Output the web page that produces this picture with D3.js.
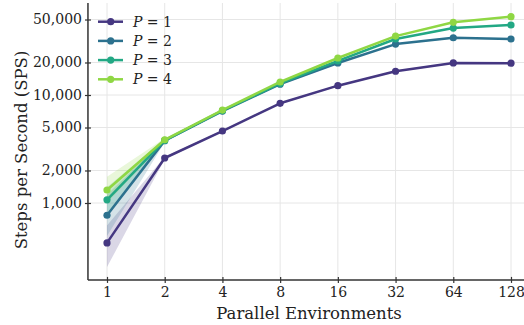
<!DOCTYPE html>
<html><head><meta charset="utf-8">
<script src="https://cdn.jsdelivr.net/npm/d3@7"></script>
<style>body{margin:0;background:#fff}svg{display:block}</style>
</head><body><svg id="c" width="524" height="325"></svg>
<script>
const envs = [1, 2, 4, 8, 16, 32, 64, 128];
const seriesNames = ["P = 1", "P = 2", "P = 3", "P = 4"];
const colors = ["#453781", "#2c718e", "#22a884", "#8fd744"];
const p1 = [427, 2610, 4640, 8380, 12200, 16600, 19800, 19700];
const p2 = [770, 3780, 7100, 12600, 19800, 29600, 33900, 33000];
const p3 = [1070, 3800, 7150, 12800, 20700, 33000, 41700, 44500];
const p4 = [1320, 3850, 7250, 13200, 22000, 35100, 47100, 53100];
const p1Lo = [255, 2540, 4560, 8250, 12000, 16350, 19500, 19400];
const p1Hi = [620, 2680, 4720, 8500, 12400, 16850, 20100, 20000];
const p2Lo = [494, 3660, 6980, 12400, 19500, 29200, 33400, 32500];
const p2Hi = [1190, 3900, 7220, 12800, 20100, 30000, 34400, 33500];
const p3Lo = [774, 3680, 7030, 12600, 20400, 32500, 41100, 43800];
const p3Hi = [1400, 3920, 7270, 13000, 21000, 33500, 42300, 45200];
const p4Lo = [1000, 3720, 7120, 13000, 21700, 34600, 46400, 52300];
const p4Hi = [1750, 3980, 7380, 13400, 22300, 35600, 47800, 53900];
const yTicks = [1000, 2000, 5000, 10000, 20000, 50000];

(function () {
const FONT = "DejaVu Serif";
const vals = [p1, p2, p3, p4], los = [p1Lo, p2Lo, p3Lo, p4Lo], his = [p1Hi, p2Hi, p3Hi, p4Hi];
const svg = d3.select("#c");
const x = d3.scaleLog().base(2).domain([1, 128]).range([107, 511]);
const y = d3.scaleLog().domain([1000, 10000]).range([203, 95]);
const pl = x(Math.pow(2, -0.33)), pr = 524, pt = 3, pb = y(194);

const g = svg.append("g");
g.selectAll(".gx").data(envs).join("line").attr("x1", d => x(d)).attr("x2", d => x(d))
  .attr("y1", pt).attr("y2", pb).attr("stroke", "#e6e6e6").attr("stroke-width", 1);
g.selectAll(".gy").data(yTicks).join("line").attr("y1", d => y(d)).attr("y2", d => y(d))
  .attr("x1", pl).attr("x2", pr).attr("stroke", "#e6e6e6").attr("stroke-width", 1);

const area = d3.area().x((d, i) => x(envs[i])).y0(d => y(d[0])).y1(d => y(d[1]));
vals.forEach((v, s) => {
  svg.append("path").datum(los[s].map((l, i) => [l, his[s][i]])).attr("d", area)
    .attr("fill", colors[s]).attr("fill-opacity", 0.2);
});
const line = d3.line().x((d, i) => x(envs[i])).y(d => y(d));
vals.forEach((v, s) => {
  svg.append("path").datum(v).attr("d", line).attr("fill", "none")
    .attr("stroke", colors[s]).attr("stroke-width", 2.5).attr("stroke-linejoin", "round");
  svg.append("g").selectAll("circle").data(v).join("circle")
    .attr("cx", (d, i) => x(envs[i])).attr("cy", d => y(d)).attr("r", 3.6).attr("fill", colors[s]);
});

const ax = svg.append("g").attr("transform", `translate(0,${pb})`)
  .call(d3.axisBottom(x).tickValues(envs).tickFormat(d3.format("d")).tickSize(3).tickSizeOuter(0));
ax.attr("font-family", FONT);
ax.select(".domain").remove();
ax.selectAll(".tick line").attr("y1", -3).attr("y2", 3).attr("stroke", "#333").attr("stroke-width", 1.2);
ax.selectAll(".tick text").attr("y", 7).attr("font-size", 14).attr("fill", "#222");
const ay = svg.append("g").attr("transform", `translate(${pl},0)`)
  .call(d3.axisLeft(y).tickValues(yTicks).tickFormat(d3.format(",")).tickSize(3).tickSizeOuter(0));
ay.attr("font-family", FONT);
ay.select(".domain").remove();
ay.selectAll(".tick line").attr("x1", -3).attr("x2", 3).attr("stroke", "#333").attr("stroke-width", 1.2);
ay.selectAll(".tick text").attr("x", -6).attr("font-size", 14).attr("fill", "#222");
svg.append("line").attr("x1", pl).attr("x2", pl).attr("y1", pt).attr("y2", pb).attr("stroke", "#333").attr("stroke-width", 1.5);
svg.append("line").attr("x1", pl).attr("x2", pr).attr("y1", pb).attr("y2", pb).attr("stroke", "#333").attr("stroke-width", 1.5);

svg.append("text").attr("font-family", FONT).attr("fill", "#222").attr("x", 309).attr("y", 319).attr("text-anchor", "middle").attr("font-size", 16.5).text("Parallel Environments");
svg.append("text").attr("font-family", FONT).attr("fill", "#222").attr("transform", "translate(27,150) rotate(-90)").attr("text-anchor", "middle").attr("font-size", 16.5).text("Steps per Second (SPS)");

const leg = svg.append("g").attr("font-family", FONT);
seriesNames.forEach((n, s) => {
  const ly = 21.7 + s * 19.2;
  leg.append("line").attr("x1", 98).attr("x2", 123).attr("y1", ly).attr("y2", ly).attr("stroke", colors[s]).attr("stroke-width", 2.5);
  leg.append("circle").attr("cx", 110.7).attr("cy", ly).attr("r", 3.6).attr("fill", colors[s]);
  const parts = n.split(" = ");
  const t = leg.append("text").attr("x", 133).attr("y", ly + 5).attr("font-size", 14).attr("fill", "#222");
  t.append("tspan").attr("font-style", "italic").text(parts[0]);
  t.append("tspan").text(" = " + parts[1]);
});
})();
</script></body></html>
